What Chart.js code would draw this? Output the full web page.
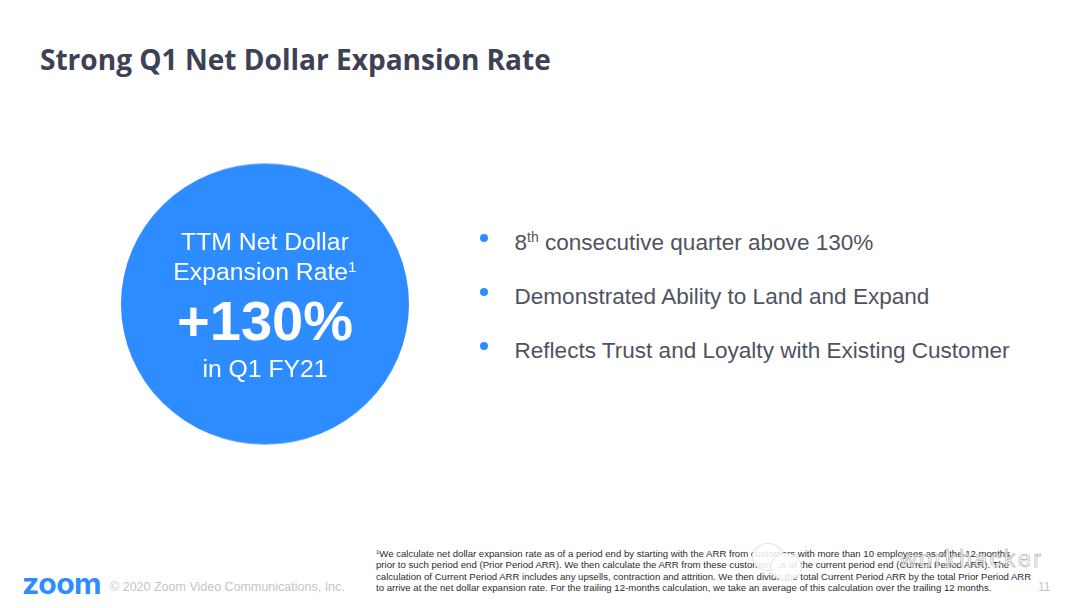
<!DOCTYPE html>
<html>
<head>
<meta charset="utf-8">
<script src="https://cdn.jsdelivr.net/npm/chart.js@4"></script>
<style>
  html, body { margin: 0; padding: 0; background: #fff; }
  #slide { position: relative; width: 1080px; height: 608px; overflow: hidden; font-family: "Liberation Sans", sans-serif; }
  #slide div { position: absolute; white-space: nowrap; }
  #title { left: 40px; top: 40px; font: 700 28.05px "Open Sans", sans-serif; color: #3d4154; }
  #circleWrap { left: 121px; top: 159.5px; width: 288px; height: 288px; transform: scaleY(0.976); }
  .inCircle { left: 121px; width: 288px; text-align: center; color: #fff; }
  .bullet { left: 514.5px; font-size: 22.55px; color: #50535f; }
  .dot { left: 480px; width: 8px; height: 8px; border-radius: 50%; background: #2d8cff; }
  sup { font-size: 62%; line-height: 0; vertical-align: baseline; position: relative; top: -0.55em; }
  #note { left: 376px; top: 548px; font-size: 9.6px; line-height: 11.4px; color: #2c2c2c; }
  #logo { left: 22px; top: 566px; font: 700 29px "Inter", sans-serif; color: #2d8cff; letter-spacing: -0.5px; transform-origin: left center; transform: scaleX(1.04); }
  #copy { left: 110px; top: 580px; font-size: 12.5px; color: #c4c5c9; }
  #page { left: 1038px; top: 580px; font-size: 12px; color: #c4c5c9; }
  .ghost { width: 30px; height: 26px; border-radius: 50%; background: rgba(255,255,255,0.85); border: 1px solid #e4e4e4; }
  #mark { left: 900px; top: 546px; font-size: 23px; letter-spacing: 2.6px; color: rgba(255,255,255,0.75); -webkit-text-stroke: 0.6px #a8a8a8; }
</style>
</head>
<body>
<div id="slide">
  <div id="title"></div>
  <div id="circleWrap"><canvas id="circle" width="288" height="288"></canvas></div>
  <div class="inCircle" style="top:228px;font-size:24.75px">TTM Net Dollar</div>
  <div class="inCircle" style="top:258px;font-size:24.75px">Expansion Rate<sup>1</sup></div>
  <div class="inCircle" style="top:288px;font-size:56px;font-weight:700">+130%</div>
  <div class="inCircle" style="top:355px;font-size:24.75px">in Q1 FY21</div>
  <div id="bullets"></div>
  <div id="note"></div>
  <div class="ghost" style="left:752px;top:543px"></div>
  <div class="ghost" style="left:770px;top:553px"></div>
  <div id="mark">workhacker</div>
  <div id="logo">zoom</div>
  <div id="copy">© 2020 Zoom Video Communications, Inc.</div>
  <div id="page">11</div>
</div>
<script>
const categories = ['TTM Net Dollar Expansion Rate'];
const seriesValues = [130];
const sliceColors = ['#2d8cff'];

const titleText = 'Strong Q1 Net Dollar Expansion Rate';
const bulletLines = [
    '8<sup>th</sup> consecutive quarter above 130%',
    'Demonstrated Ability to Land and Expand',
    'Reflects Trust and Loyalty with Existing Customer'
];
const noteLines = [
    '<sup>1</sup>We calculate net dollar expansion rate as of a period end by starting with the ARR from customers with more than 10 employees as of the 12 months',
    'prior to such period end (Prior Period ARR). We then calculate the ARR from these customers as of the current period end (Current Period ARR). The',
    'calculation of Current Period ARR includes any upsells, contraction and attrition. We then divide the total Current Period ARR by the total Prior Period ARR',
    'to arrive at the net dollar expansion rate. For the trailing 12-months calculation, we take an average of this calculation over the trailing 12 months.'
];

document.getElementById('title').textContent = titleText;
document.getElementById('note').innerHTML = noteLines.join('<br>');

// Bullets sit 54px apart
const bullets = document.getElementById('bullets');
bulletLines.forEach((line, i) => {
    const top = 230 + i * 54;
    bullets.innerHTML += `<div class="dot" style="top:${top + 4}px"></div>`;
    bullets.innerHTML += `<div class="bullet" style="top:${top}px">${line}</div>`;
});

// The blue disc is a single slice pie
new Chart(document.getElementById('circle').getContext('2d'), {
    type: 'pie',
    data: {
        labels: categories,
        datasets: [{
            data: seriesValues,
            backgroundColor: sliceColors,
            borderWidth: 0
        }]
    },
    options: {
        responsive: false,
        animation: false,
        layout: { padding: 0 },
        plugins: {
            legend: { display: false },
            tooltip: { enabled: false }
        }
    }
});
</script>
</body>
</html>
